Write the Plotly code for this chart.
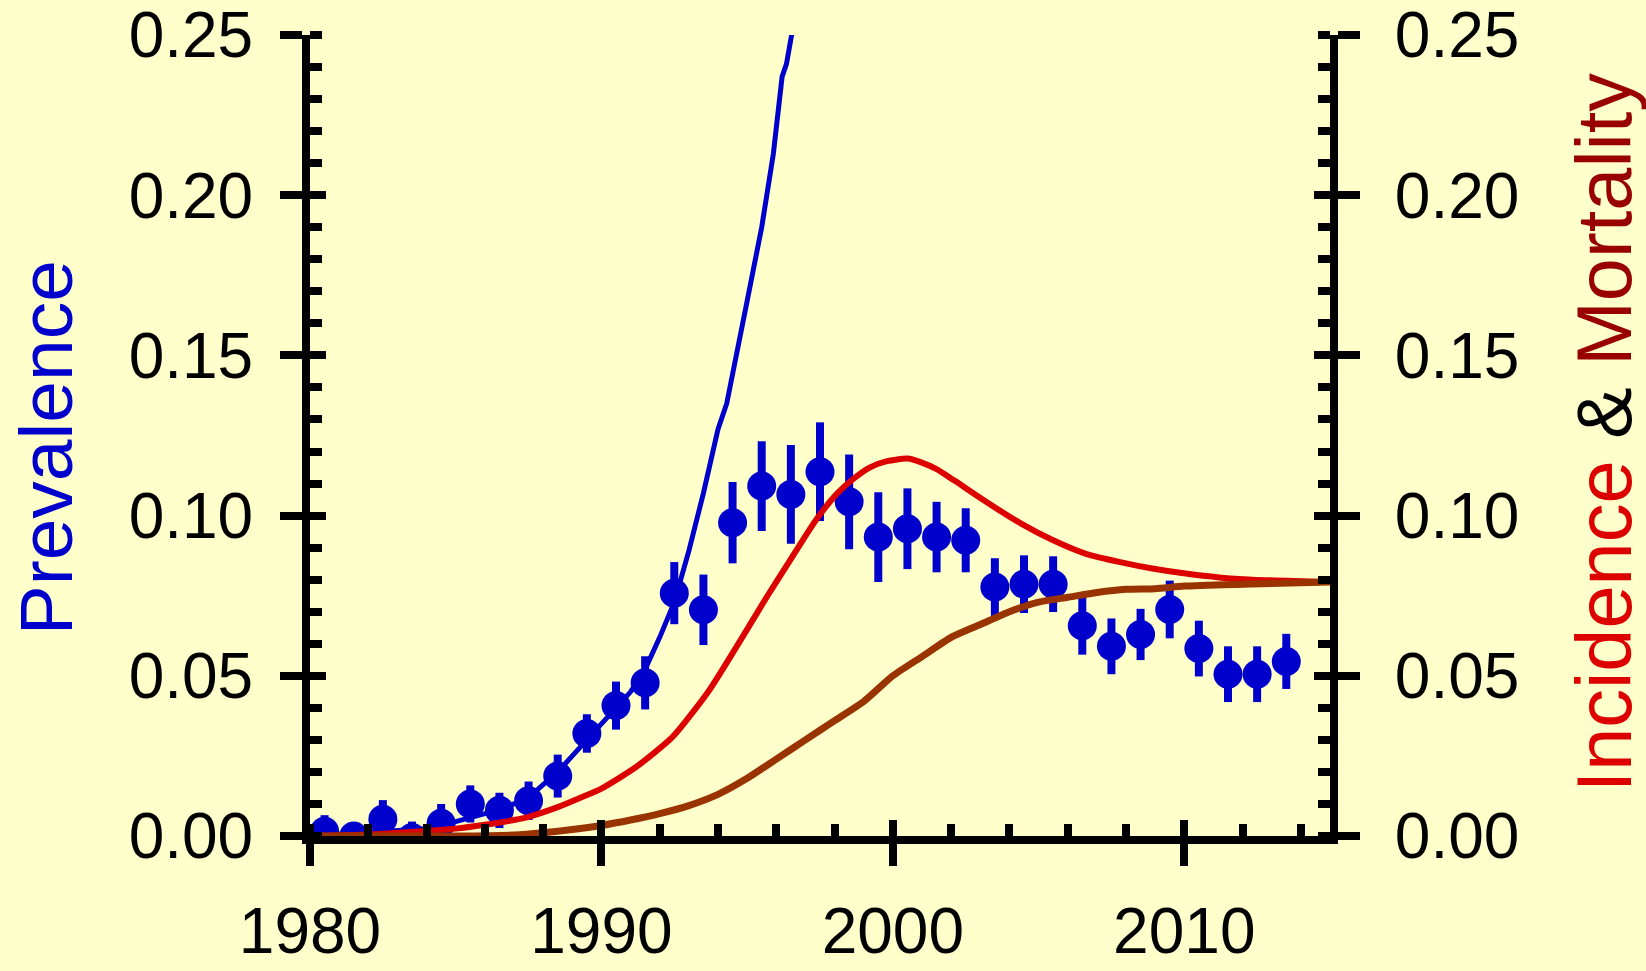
import plotly.graph_objects as go

# ---- data ----
obs_years = [1980.5, 1981.5, 1982.5, 1983.5, 1984.5, 1985.5, 1986.5, 1987.5, 1988.5, 1989.5,
             1990.5, 1991.5, 1992.5, 1993.5, 1994.5, 1995.5, 1996.5, 1997.5, 1998.5, 1999.5,
             2000.5, 2001.5, 2002.5, 2003.5, 2004.5, 2005.5, 2006.5, 2007.5, 2008.5, 2009.5,
             2010.5, 2011.5, 2012.5, 2013.5]
prevalence_obs = [0.0015, 0.0000, 0.0052, -0.0005, 0.0040, 0.0100, 0.0080, 0.0110, 0.0187, 0.0320,
                  0.0407, 0.0478, 0.0758, 0.0706, 0.0978, 0.1092, 0.1066, 0.1137, 0.1043, 0.0933,
                  0.0959, 0.0933, 0.0923, 0.0777, 0.0786, 0.0786, 0.0656, 0.0592, 0.0629, 0.0707,
                  0.0585, 0.0505, 0.0505, 0.0545]
prevalence_err = [0.005, 0.003, 0.006, 0.005, 0.006, 0.0058, 0.0055, 0.006, 0.0067, 0.006,
                  0.0075, 0.0083, 0.0097, 0.011, 0.0127, 0.014, 0.0154, 0.0154, 0.0148, 0.014,
                  0.0126, 0.011, 0.010, 0.009, 0.009, 0.0087, 0.009, 0.0087, 0.008, 0.009,
                  0.0087, 0.0087, 0.0087, 0.0086]

prev_model_years = [1980.0, 1981.0, 1982.0, 1983.0, 1984.0, 1985.0, 1986.0, 1987.0, 1987.5, 1988.0,
                    1988.5, 1989.0, 1989.5, 1990.0, 1990.5, 1991.0, 1991.5, 1992.0, 1992.5, 1993.0,
                    1993.5, 1994.0, 1994.3, 1994.6, 1995.0, 1995.5, 1995.9, 1996.2, 1996.35, 1996.7]
prev_model = [0.000, 0.0005, 0.001, 0.0015, 0.0023, 0.0045, 0.007, 0.010, 0.012, 0.016,
              0.020, 0.025, 0.030, 0.035, 0.040, 0.045, 0.052, 0.062, 0.073, 0.089,
              0.107, 0.127, 0.135, 0.148, 0.167, 0.190, 0.213, 0.237, 0.241, 0.259]

inc_years = [1980.0, 1982.0, 1983.3, 1985.0, 1986.0, 1987.0, 1987.5, 1988.5, 1989.3, 1990.0,
             1991.2, 1992.45, 1993.7, 1994.9, 1995.7, 1996.4, 1997.35, 1998.1, 1998.65, 1999.2,
             1999.8, 2000.5, 2000.95, 2001.5, 2002.1, 2003.2, 2004.4, 2005.5, 2006.65, 2007.8,
             2008.9, 2010.05, 2011.2, 2012.35, 2015.0]
incidence = [0.000, 0.0005, 0.0012, 0.0023, 0.0035, 0.005, 0.006, 0.009, 0.012, 0.0148,
             0.0216, 0.031, 0.0455, 0.063, 0.075, 0.085, 0.0985, 0.107, 0.1115, 0.1150,
             0.1170, 0.1178, 0.1167, 0.1145, 0.111, 0.1043, 0.0975, 0.0923, 0.088, 0.0855,
             0.0835, 0.0819, 0.0807, 0.0800, 0.0793]

mort_years = [1980.0, 1985.0, 1987.0, 1988.0, 1989.0, 1990.0, 1991.0, 1992.0, 1993.0, 1994.0,
              1995.0, 1996.0, 1997.0, 1998.0, 1999.0, 2000.0, 2001.0, 2002.0, 2003.0, 2004.0,
              2005.0, 2006.0, 2007.0, 2008.0, 2009.0, 2010.0, 2012.0, 2015.0]
mortality = [0.000, 0.000, 0.0003, 0.001, 0.002, 0.0033, 0.005, 0.007, 0.0095, 0.013,
             0.018, 0.024, 0.030, 0.036, 0.042, 0.050, 0.056, 0.062, 0.066, 0.070,
             0.073, 0.0745, 0.076, 0.077, 0.0772, 0.078, 0.0786, 0.0793]

x_ticks = [1980, 1990, 2000, 2010]
y_ticks = [0.00, 0.05, 0.10, 0.15, 0.20, 0.25]
y_ticktext = ["0.00", "0.05", "0.10", "0.15", "0.20", "0.25"]

BG = "#FFFFCC"
BLUE = "#0000CC"
RED = "#DD0000"
DARKRED = "#990000"
BROWN = "#993300"
FONT = "Liberation Sans, Arial, sans-serif"

fig = go.Figure()

fig.add_trace(go.Scatter(
    x=obs_years, y=prevalence_obs, mode="markers",
    marker=dict(color=BLUE, size=29, symbol="circle", line=dict(width=0)),
    error_y=dict(type="data", array=prevalence_err, visible=True, color=BLUE,
                 thickness=8, width=0),
    hoverinfo="skip", showlegend=False))
fig.add_trace(go.Scatter(
    x=prev_model_years, y=prev_model, mode="lines",
    line=dict(color=BLUE, width=5), hoverinfo="skip", showlegend=False))
fig.add_trace(go.Scatter(
    x=inc_years, y=incidence, mode="lines", yaxis="y2",
    line=dict(color=RED, width=6, shape="spline", smoothing=0.6),
    hoverinfo="skip", showlegend=False))
fig.add_trace(go.Scatter(
    x=mort_years, y=mortality, mode="lines", yaxis="y2",
    line=dict(color=BROWN, width=7, shape="spline", smoothing=0.6),
    hoverinfo="skip", showlegend=False))
# empty traces to register the overlay tick axes
fig.add_trace(go.Scatter(x=[], y=[], xaxis="x2", yaxis="y", showlegend=False))
fig.add_trace(go.Scatter(x=[], y=[], xaxis="x", yaxis="y3", showlegend=False))
fig.add_trace(go.Scatter(x=[], y=[], xaxis="x", yaxis="y4", showlegend=False))

XR = [1980, 2015]
YR = [0, 0.25]
TL_OUT = 22
TL_IN = 16
TW = 8
minor_y = dict(dtick=0.01, tick0=0, ticks="inside", ticklen=12, tickwidth=TW,
               tickcolor="black", showgrid=False)

fig.update_layout(
    width=1646, height=971,
    paper_bgcolor=BG, plot_bgcolor=BG,
    margin=dict(l=310, r=316, t=35, b=135, autoexpand=False),
    showlegend=False,
    xaxis=dict(range=XR, tickvals=x_ticks, ticktext=[str(v) for v in x_ticks],
               ticks="outside", ticklen=TL_OUT, tickwidth=TW, tickcolor="black",
               showline=True, linewidth=8, linecolor="black", showgrid=False, zeroline=False,
               tickfont=dict(family=FONT, size=64, color="black"),
               ticklabelstandoff=10, automargin=False, ticklabeloverflow="allow",
               minor=dict(dtick=2, tick0=1980, ticks="inside", ticklen=12, tickwidth=TW,
                          tickcolor="black", showgrid=False),
               anchor="y"),
    xaxis2=dict(range=XR, overlaying="x", anchor="y", side="bottom", tickvals=x_ticks,
                ticks="inside", ticklen=TL_IN, tickwidth=TW, tickcolor="black", automargin=False,
                showticklabels=False, showline=False, showgrid=False, zeroline=False),
    yaxis=dict(range=YR, tickvals=y_ticks, ticktext=y_ticktext,
               ticks="outside", ticklen=TL_OUT, tickwidth=TW, tickcolor="black",
               showline=True, linewidth=8, linecolor="black", showgrid=False, zeroline=False,
               tickfont=dict(family=FONT, size=64, color="black"),
               ticklabelstandoff=14, automargin=False, ticklabeloverflow="allow",
               minor=minor_y, anchor="x"),
    yaxis2=dict(range=YR, tickvals=y_ticks, ticktext=y_ticktext, overlaying="y", side="right",
                ticks="outside", ticklen=TL_OUT, tickwidth=TW, tickcolor="black",
                showline=True, linewidth=8, linecolor="black", showgrid=False, zeroline=False,
                tickfont=dict(family=FONT, size=64, color="black"),
                ticklabelstandoff=22, automargin=False, ticklabeloverflow="allow",
                minor=minor_y, anchor="x"),
    yaxis3=dict(range=YR, tickvals=y_ticks, overlaying="y", side="left", anchor="x",
                ticks="inside", ticklen=TL_IN, tickwidth=TW, tickcolor="black", automargin=False,
                showticklabels=False, showline=False, showgrid=False, zeroline=False),
    yaxis4=dict(range=YR, tickvals=y_ticks, overlaying="y", side="right", anchor="x",
                ticks="inside", ticklen=TL_IN, tickwidth=TW, tickcolor="black", automargin=False,
                showticklabels=False, showline=False, showgrid=False, zeroline=False),
    annotations=[
        dict(text="Prevalence", xref="paper", yref="paper", x=-0.2588, y=0.484,
             xanchor="center", yanchor="middle", textangle=-90, showarrow=False,
             font=dict(family=FONT, size=75, color=BLUE)),
        dict(text=(f"<span style='color:{RED}'>Incidence</span> "
                   f"<span style='color:black'>&amp;</span> "
                   f"<span style='color:{DARKRED}'>Mortality</span>"),
             xref="paper", yref="paper", x=1.2686, y=0.504,
             xanchor="center", yanchor="middle", textangle=-90, showarrow=False,
             font=dict(family=FONT, size=77.5, color=RED)),
    ],
)

fig.write_html(
    "out.html",
    config={"displayModeBar": False},
    post_script="document.body.style.margin='0';document.body.style.background='#FFFFCC';",
)
